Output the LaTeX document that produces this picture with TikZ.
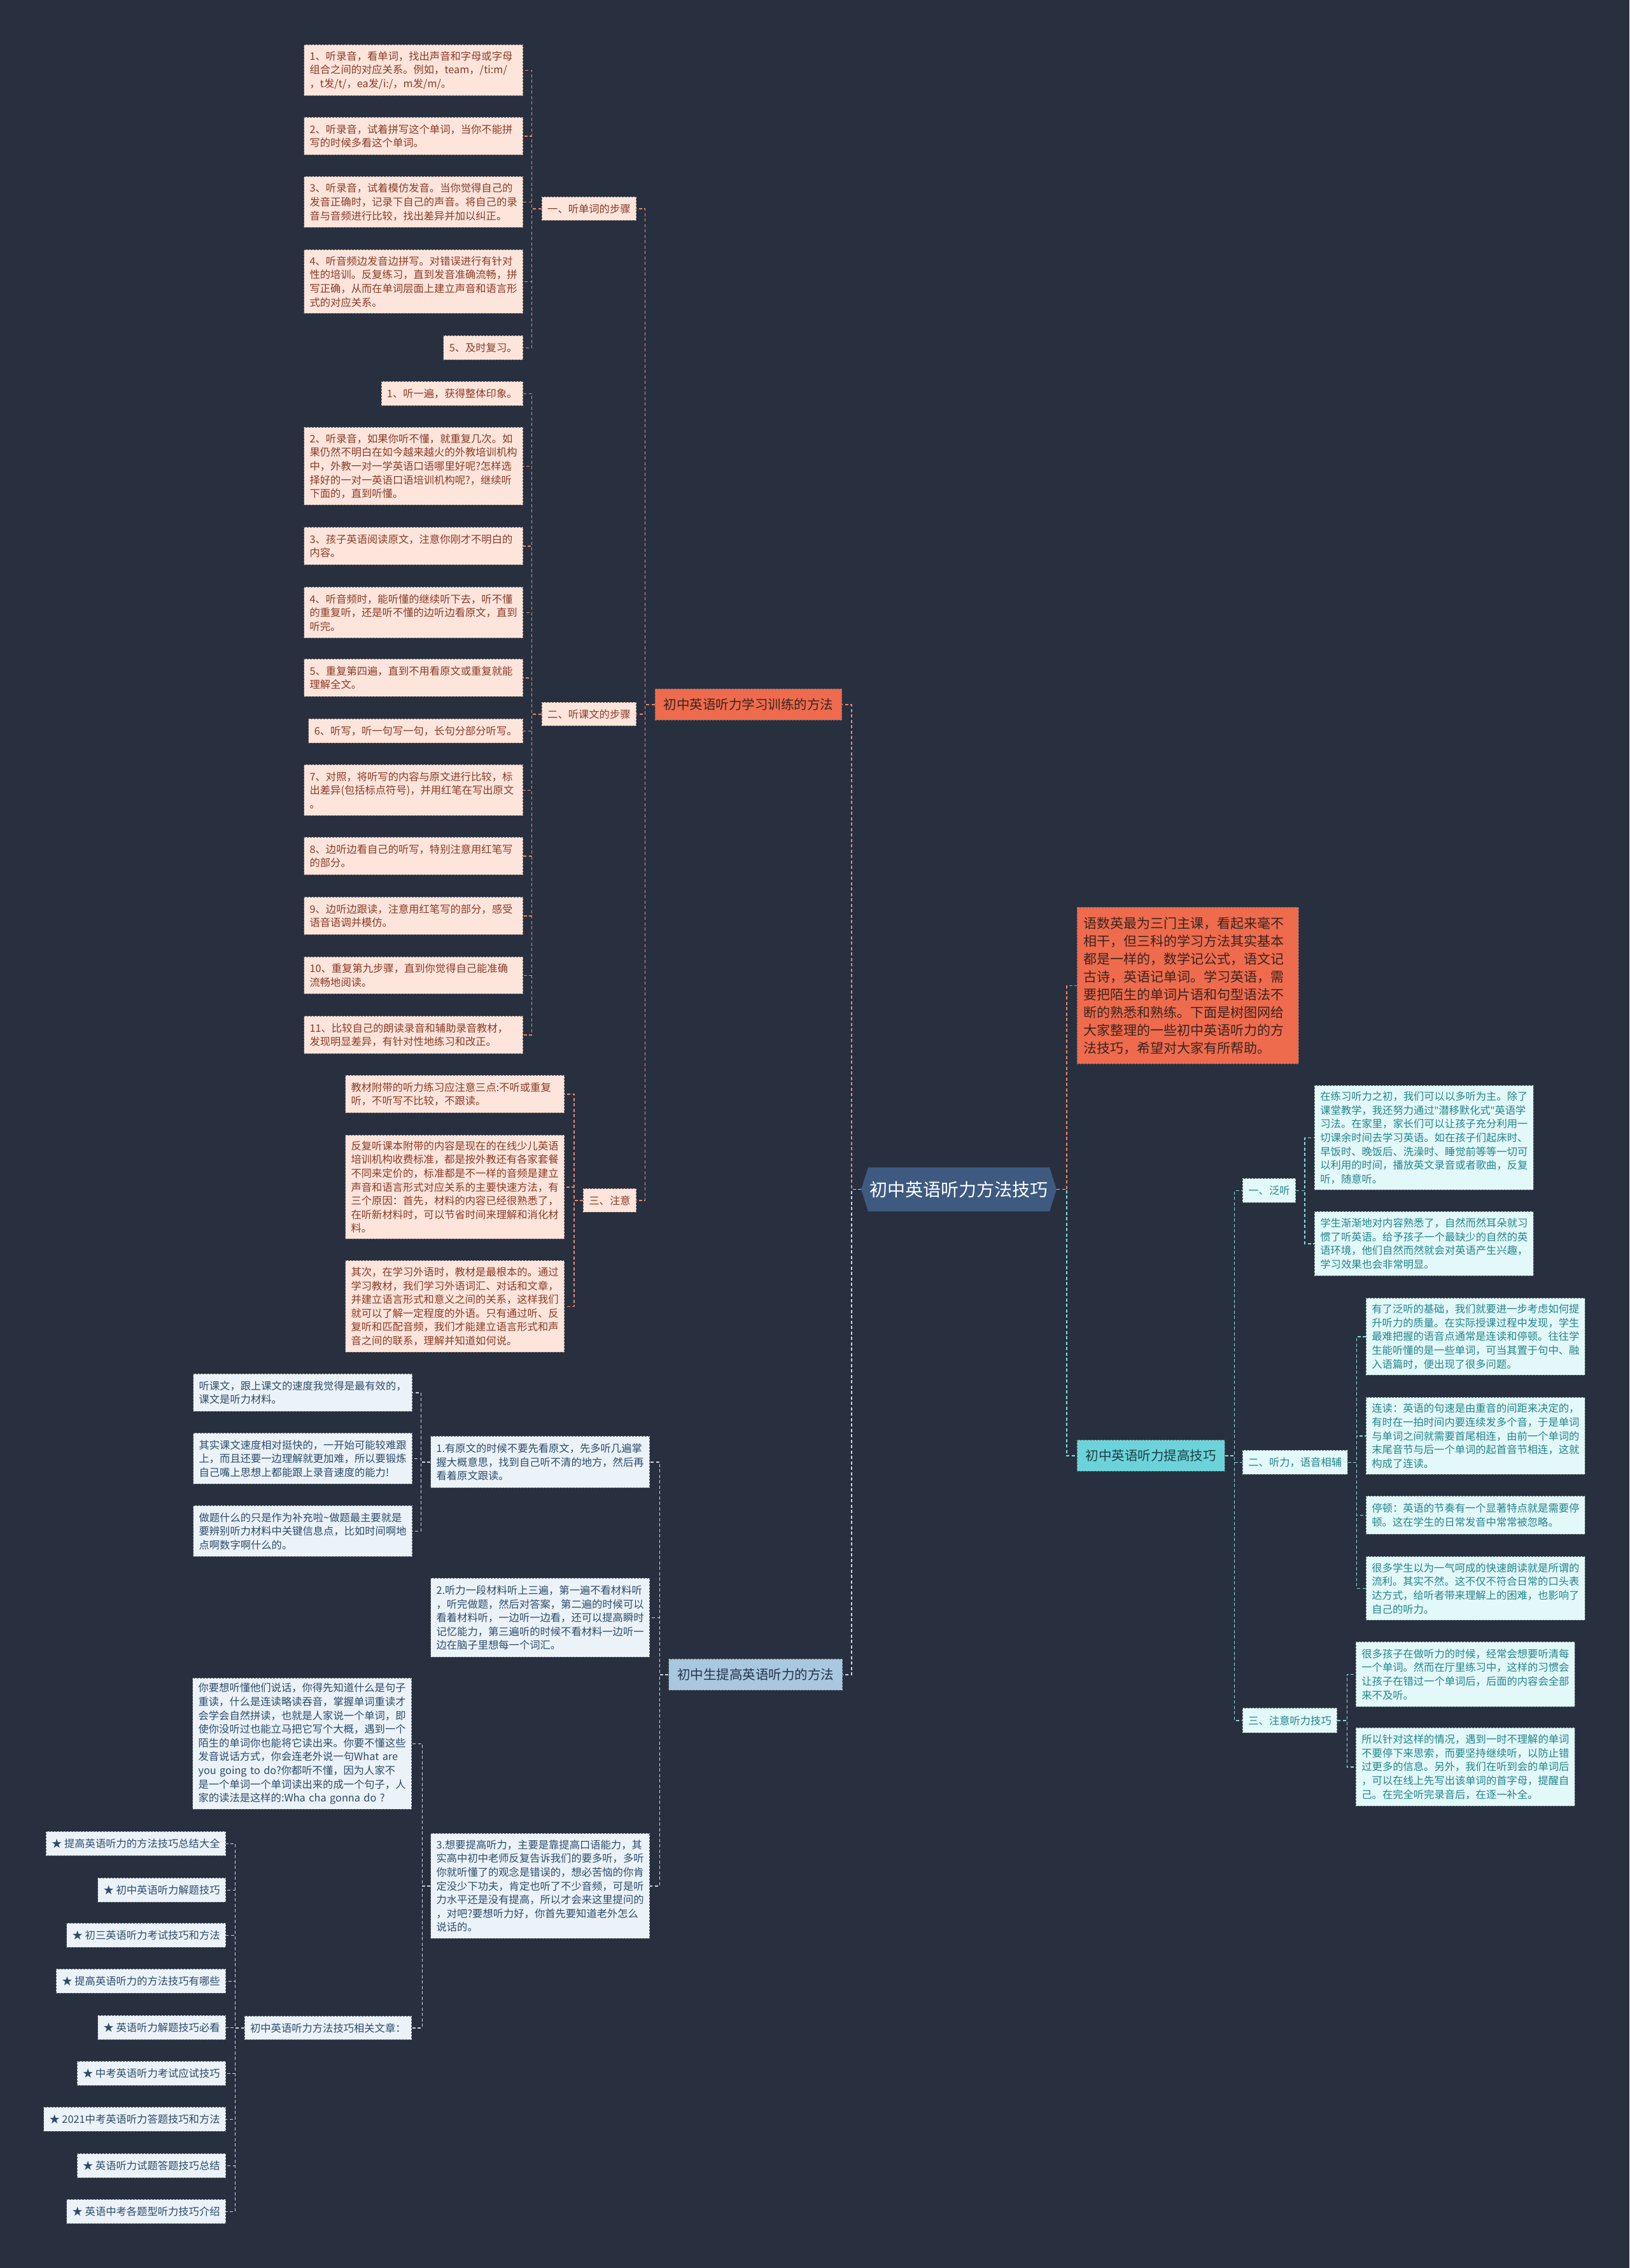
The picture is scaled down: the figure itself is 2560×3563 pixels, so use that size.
\documentclass[tikz,border=0pt]{standalone}
\usepackage{fontspec}
\setmainfont{Noto Sans CJK SC}
\newfontfamily\latinq{Noto Sans}
\definecolor{bg}{HTML}{28303F}
\definecolor{peach}{HTML}{FDE5DC}
\definecolor{txtA}{HTML}{8B3A26}
\definecolor{bordA}{HTML}{6E6460}
\definecolor{orng}{HTML}{EE6B4D}
\definecolor{txtO}{HTML}{3A2520}
\definecolor{lnA}{HTML}{E8876D}
\definecolor{ctrfill}{HTML}{3E5A80}
\definecolor{cyanB}{HTML}{6DD3DA}
\definecolor{txtBB}{HTML}{1D3F44}
\definecolor{cyanl}{HTML}{E3F8F9}
\definecolor{txtB}{HTML}{22858C}
\definecolor{bordB}{HTML}{5E6A6C}
\definecolor{lnB}{HTML}{8ADBE1}
\definecolor{blueC}{HTML}{A9C7DE}
\definecolor{txtCC}{HTML}{23354A}
\definecolor{bluel}{HTML}{EBF3F9}
\definecolor{txtC}{HTML}{2D4B6A}
\definecolor{bordC}{HTML}{5F666E}
\definecolor{lnC}{HTML}{CBD6E2}
\tikzset{
  bx/.style={rectangle, line width=0.8pt, dash pattern=on 3pt off 2pt, inner xsep=9pt, inner ysep=2pt, align=left, font=\fontsize{16.3}{21.6}\selectfont},
  lw/.style={text width=326pt},
  lfA/.style={bx, fill=peach, draw=bordA, text=txtA},
  lfB/.style={bx, fill=cyanl, draw=bordB, text=txtB},
  lfC/.style={bx, fill=bluel, draw=bordC, text=txtC},
  mainbr/.style={bx, inner xsep=13.5pt, font=\fontsize{20.5}{26}\selectfont, minimum height=49pt},
  cnA/.style={draw=lnA, line width=1.2pt, dash pattern=on 5pt off 3.5pt},
  cnB/.style={draw=lnB, line width=1.2pt, dash pattern=on 5pt off 3.5pt},
  cnC/.style={draw=lnC, line width=1.2pt, dash pattern=on 5pt off 3.5pt},
  ne/.style={anchor=north east},
  nw/.style={anchor=north west},
  ht/.style={minimum height=#1}
}
\begin{document}
\begin{tikzpicture}[x=1pt,y=1pt]
\fill[bg] (0,0) rectangle (2560,-3563);
\useasboundingbox (0,0) rectangle (2560,-3563);

% ---------- center ----------
\coordinate (ctrL) at (1353,-1868.5);
\coordinate (ctrR) at (1660,-1868.5);
\fill[ctrfill] (ctrL) -- (1364,-1834) -- (1649,-1834) -- (ctrR) -- (1649,-1903) -- (1364,-1903) -- cycle;
\node[text=white, font=\fontsize{28}{34}\selectfont] (ctr) at (1506.5,-1868.5) {初中英语听力方法技巧};

% ---------- branch A ----------
\node[mainbr, fill=orng, draw=bordA, text=txtO, ne] (A) at (1323,-1082) {初中英语听力学习训练的方法};

\node[lfA, ne, ht=37] (s1) at (1000,-309) {一、听单词的步骤};
\node[lfA, ne, ht=37] (s2) at (1000,-1103) {二、听课文的步骤};
\node[lfA, ne, ht=37] (s3) at (1000,-1867) {三、注意};

\node[lfA, lw, ne, ht=80] (l11) at (822,-70) {1、听录音，看单词，找出声音和字母或字母\\组合之间的对应关系。例如，team，/ti:m/\\，t发/t/，ea发/i:/，m发/m/。};
\node[lfA, lw, ne, ht=59] (l12) at (822,-184) {2、听录音，试着拼写这个单词，当你不能拼\\写的时候多看这个单词。};
\node[lfA, lw, ne, ht=80] (l13) at (822,-277) {3、听录音，试着模仿发音。当你觉得自己的\\发音正确时，记录下自己的声音。将自己的录\\音与音频进行比较，找出差异并加以纠正。};
\node[lfA, lw, ne, ht=100] (l14) at (822,-392) {4、听音频边发音边拼写。对错误进行有针对\\性的培训。反复练习，直到发音准确流畅，拼\\写正确，从而在单词层面上建立声音和语言形\\式的对应关系。};
\node[lfA, ne, ht=38] (l15) at (822,-527) {5、及时复习。};

\node[lfA, ne, ht=38] (l21) at (822,-599) {1、听一遍，获得整体印象。};
\node[lfA, lw, ne, ht=122] (l22) at (822,-671) {2、听录音，如果你听不懂，就重复几次。如\\果仍然不明白在如今越来越火的外教培训机构\\中，外教一对一学英语口语哪里好呢?怎样选\\择好的一对一英语口语培训机构呢?，继续听\\下面的，直到听懂。};
\node[lfA, lw, ne, ht=59] (l23) at (822,-828) {3、孩子英语阅读原文，注意你刚才不明白的\\内容。};
\node[lfA, lw, ne, ht=80] (l24) at (822,-922) {4、听音频时，能听懂的继续听下去，听不懂\\的重复听，还是听不懂的边听边看原文，直到\\听完。};
\node[lfA, lw, ne, ht=59] (l25) at (822,-1035) {5、重复第四遍，直到不用看原文或重复就能\\理解全文。};
\node[lfA, ne, ht=38] (l26) at (822,-1129) {6、听写，听一句写一句，长句分部分听写。};
\node[lfA, lw, ne, ht=80] (l27) at (822,-1201) {7、对照，将听写的内容与原文进行比较，标\\出差异(包括标点符号)，并用红笔在写出原文\\。};
\node[lfA, lw, ne, ht=59] (l28) at (822,-1315) {8、边听边看自己的听写，特别注意用红笔写\\的部分。};
\node[lfA, lw, ne, ht=59] (l29) at (822,-1409) {9、边听边跟读，注意用红笔写的部分，感受\\语音语调并模仿。};
\node[lfA, lw, ne, ht=58] (l210) at (822,-1503) {10、重复第九步骤，直到你觉得自己能准确\\流畅地阅读。};
\node[lfA, lw, ne, ht=59] (l211) at (822,-1596) {11、比较自己的朗读录音和辅助录音教材，\\发现明显差异，有针对性地练习和改正。};

\node[lfA, lw, ne, ht=59] (l31) at (887,-1689) {教材附带的听力练习应注意三点:不听或重复\\听，不听写不比较，不跟读。};
\node[lfA, lw, ne, ht=163] (l32) at (887,-1783) {反复听课本附带的内容是现在的在线少儿英语\\培训机构收费标准，都是按外教还有各家套餐\\不同来定价的，标准都是不一样的音频是建立\\声音和语言形式对应关系的主要快速方法，有\\三个原因：首先，材料的内容已经很熟悉了，\\在听新材料时，可以节省时间来理解和消化材\\料。};
\node[lfA, lw, ne, ht=144] (l33) at (887,-1980) {其次，在学习外语时，教材是最根本的。通过\\学习教材，我们学习外语词汇、对话和文章，\\并建立语言形式和意义之间的关系，这样我们\\就可以了解一定程度的外语。只有通过听、反\\复听和匹配音频，我们才能建立语言形式和声\\音之间的联系，理解并知道如何说。};

% ---------- intro ----------
\node[bx, fill=orng, draw=bordA, text=txtO, nw, inner xsep=10pt, text width=328pt, minimum height=246pt, font=\fontsize{21}{28}\selectfont] (intro) at (1692,-1425) {语数英最为三门主课，看起来毫不\\相干，但三科的学习方法其实基本\\都是一样的，数学记公式，语文记\\古诗，英语记单词。学习英语，需\\要把陌生的单词片语和句型语法不\\断的熟悉和熟练。下面是树图网给\\大家整理的一些初中英语听力的方\\法技巧，希望对大家有所帮助。};

% ---------- branch B ----------
\node[mainbr, fill=cyanB, draw=bordB, text=txtBB, nw] (B) at (1692,-2262) {初中英语听力提高技巧};
\node[lfB, nw, ht=38] (r1) at (1952,-1851) {一、泛听};
\node[lfB, nw, ht=38] (r2) at (1952,-2278) {二、听力，语音相辅};
\node[lfB, nw, ht=39] (r3) at (1952,-2683) {三、注意听力技巧};

\node[lfB, lw, nw, ht=164] (r1a) at (2065,-1705) {在练习听力之初，我们可以以多听为主。除了\\课堂教学，我还努力通过{\latinq\char"22}潜移默化式{\latinq\char"22}英语学\\习法。在家里，家长们可以让孩子充分利用一\\切课余时间去学习英语。如在孩子们起床时、\\早饭时、晚饭后、洗澡时、睡觉前等等一切可\\以利用的时间，播放英文录音或者歌曲，反复\\听，随意听。};
\node[lfB, lw, nw, ht=101] (r1b) at (2065,-1903) {学生渐渐地对内容熟悉了，自然而然耳朵就习\\惯了听英语。给予孩子一个最缺少的自然的英\\语环境，他们自然而然就会对英语产生兴趣，\\学习效果也会非常明显。};

\node[lfB, lw, nw, ht=121] (r2a) at (2146,-2039) {有了泛听的基础，我们就要进一步考虑如何提\\升听力的质量。在实际授课过程中发现，学生\\最难把握的语音点通常是连读和停顿。往往学\\生能听懂的是一些单词，可当其置于句中、融\\入语篇时，便出现了很多问题。};
\node[lfB, lw, nw, ht=121] (r2b) at (2146,-2195) {连读：英语的句速是由重音的间距来决定的，\\有时在一拍时间内要连续发多个音，于是单词\\与单词之间就需要首尾相连，由前一个单词的\\末尾音节与后一个单词的起首音节相连，这就\\构成了连读。};
\node[lfB, lw, nw, ht=60] (r2c) at (2146,-2350) {停顿：英语的节奏有一个显著特点就是需要停\\顿。这在学生的日常发音中常常被忽略。};
\node[lfB, lw, nw, ht=100] (r2d) at (2146,-2445) {很多学生以为一气呵成的快速朗读就是所谓的\\流利。其实不然。这不仅不符合日常的口头表\\达方式，给听者带来理解上的困难，也影响了\\自己的听力。};

\node[lfB, lw, nw, ht=102] (r3a) at (2130,-2579) {很多孩子在做听力的时候，经常会想要听清每\\一个单词。然而在厅里练习中，这样的习惯会\\让孩子在错过一个单词后，后面的内容会全部\\来不及听。};
\node[lfB, lw, nw, ht=123] (r3b) at (2130,-2714) {所以针对这样的情况，遇到一时不理解的单词\\不要停下来思索，而要坚持继续听，以防止错\\过更多的信息。另外，我们在听到会的单词后\\，可以在线上先写出该单词的首字母，提醒自\\己。在完全听完录音后，在逐一补全。};

% ---------- branch C ----------
\node[mainbr, fill=blueC, draw=bordC, text=txtCC, ne] (C) at (1324,-2606) {初中生提高英语听力的方法};

\node[lfC, lw, ne, ht=81] (c1) at (1021,-2256) {1.有原文的时候不要先看原文，先多听几遍掌\\握大概意思，找到自己听不清的地方，然后再\\看着原文跟读。};
\node[lfC, lw, ne, ht=124] (c2) at (1021,-2479) {2.听力一段材料听上三遍，第一遍不看材料听\\，听完做题，然后对答案，第二遍的时候可以\\看着材料听，一边听一边看，还可以提高瞬时\\记忆能力，第三遍听的时候不看材料一边听一\\边在脑子里想每一个词汇。};
\node[lfC, lw, ne, ht=165] (c3) at (1021,-2880) {3.想要提高听力，主要是靠提高口语能力，其\\实高中初中老师反复告诉我们的要多听，多听\\你就听懂了的观念是错误的，想必苦恼的你肯\\定没少下功夫，肯定也听了不少音频，可是听\\力水平还是没有提高，所以才会来这里提问的\\，对吧?要想听力好，你首先要知道老外怎么\\说话的。};

\node[lfC, lw, ne, ht=59] (c1a) at (648,-2158) {听课文，跟上课文的速度我觉得是最有效的，\\课文是听力材料。};
\node[lfC, lw, ne, ht=80] (c1b) at (648,-2251) {其实课文速度相对挺快的，一开始可能较难跟\\上，而且还要一边理解就更加难，所以要锻炼\\自己嘴上思想上都能跟上录音速度的能力!};
\node[lfC, lw, ne, ht=80] (c1c) at (648,-2365) {做题什么的只是作为补充啦\textasciitilde 做题最主要就是\\要辨别听力材料中关键信息点，比如时间啊地\\点啊数字啊什么的。};

\node[lfC, lw, ne, ht=206] (c3a) at (647,-2636) {你要想听懂他们说话，你得先知道什么是句子\\重读，什么是连读略读吞音，掌握单词重读才\\会学会自然拼读，也就是人家说一个单词，即\\使你没听过也能立马把它写个大概，遇到一个\\陌生的单词你也能将它读出来。你要不懂这些\\发音说话方式，你会连老外说一句What~are\\you~going~to~do?你都听不懂，因为人家不\\是一个单词一个单词读出来的成一个句子，人\\家的读法是这样的:Wha~cha~gonna~do~?};
\node[lfC, ne, ht=37] (rel) at (647,-3167) {初中英语听力方法技巧相关文章：};

\node[lfC, ne, ht=38] (k1) at (355,-2877) {★ 提高英语听力的方法技巧总结大全};
\node[lfC, ne, ht=38] (k2) at (355,-2950) {★ 初中英语听力解题技巧};
\node[lfC, ne, ht=38] (k3) at (355,-3021) {★ 初三英语听力考试技巧和方法};
\node[lfC, ne, ht=38] (k4) at (355,-3093) {★ 提高英语听力的方法技巧有哪些};
\node[lfC, ne, ht=38] (k5) at (355,-3166) {★ 英语听力解题技巧必看};
\node[lfC, ne, ht=38] (k6) at (355,-3238) {★ 中考英语听力考试应试技巧};
\node[lfC, ne, ht=38] (k7) at (355,-3310) {★ 2021中考英语听力答题技巧和方法};
\node[lfC, ne, ht=38] (k8) at (355,-3383) {★ 英语听力试题答题技巧总结};
\node[lfC, ne, ht=38] (k9) at (355,-3455) {★ 英语中考各题型听力技巧介绍};

% ---------- connectors ----------
\foreach \n in {l11,l12,l13,l14,l15} \draw[cnA] (s1.west) -- ++(-15,0) |- (\n.east);
\foreach \n in {l21,l22,l23,l24,l25,l26,l27,l28,l29,l210,l211} \draw[cnA] (s2.west) -- ++(-15,0) |- (\n.east);
\foreach \n in {l31,l32,l33} \draw[cnA] (s3.west) -- ++(-14,0) |- (\n.east);
\foreach \n in {s1,s2,s3} \draw[cnA] (A.west) -- ++(-15,0) |- (\n.east);
\draw[cnA] (ctrL) -- ++(-15,0) |- (A.east);
\draw[cnC] (ctrL) -- ++(-15,0) |- (C.east);
\draw[cnA] (ctrR) -- ++(16,0) |- (intro.west);
\draw[cnB] (ctrR) -- ++(16,0) |- (B.west);
\foreach \n in {r1,r2,r3} \draw[cnB] (B.east) -- ++(15,0) |- (\n.west);
\foreach \n in {r1a,r1b} \draw[cnB] (r1.east) -- ++(14,0) |- (\n.west);
\foreach \n in {r2a,r2b,r2c,r2d} \draw[cnB] (r2.east) -- ++(14,0) |- (\n.west);
\foreach \n in {r3a,r3b} \draw[cnB] (r3.east) -- ++(15,0) |- (\n.west);
\foreach \n in {c1,c2,c3} \draw[cnC] (C.west) -- ++(-14,0) |- (\n.east);
\foreach \n in {c1a,c1b,c1c} \draw[cnC] (c1.west) -- ++(-15,0) |- (\n.east);
\foreach \n in {c3a,rel} \draw[cnC] (c3.west) -- ++(-13,0) |- (\n.east);
\foreach \n in {k1,k2,k3,k4,k5,k6,k7,k8,k9} \draw[cnC] (rel.west) -- ++(-14,0) |- (\n.east);
\end{tikzpicture}
\end{document}
